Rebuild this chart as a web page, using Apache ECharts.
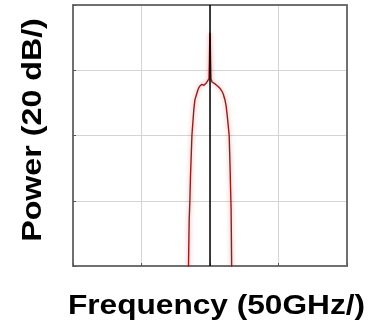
<!DOCTYPE html>
<html>
<head>
<meta charset="utf-8">
<script src="https://cdn.jsdelivr.net/npm/echarts@6/dist/echarts.min.js"></script>
<style>
html,body{margin:0;padding:0;background:#fff;}
#chart{width:386px;height:329px;}
</style>
</head>
<body>
<div id="chart"></div>
<script>
// Frequency offset (GHz) and relative power (dB) of the measured spectrum
var freqGHz = [-17.0, -15.7, -15.2, -14.7, -14.2, -13.2, -12.5, -11.8, -11.0, -9.9, -8.8, -7.7, -6.6, -5.9, -5.1, -4.4, -3.7, -2.9, -2.2, -1.5, -0.7, -0.4, -0.2, 0.0, 0.2, 0.4, 0.7, 1.5, 2.2, 2.9, 3.7, 4.4, 5.1, 5.9, 6.6, 7.4, 8.5, 9.6, 10.3, 11.0, 11.8, 12.5, 13.2, 14.0, 14.7, 15.0, 15.4, 15.8, 16.5];
var powerDB = [-86, -80, -66, -60, -52, -40, -36, -32, -29, -27.5, -26, -25, -24.6, -24.3, -24.2, -24.6, -24.7, -24.0, -23.9, -23.4, -22.6, -17.0, -11.0, -8.5, -11.0, -17.0, -22.6, -23.6, -23.9, -24.1, -24.2, -24.4, -24.8, -25.0, -25.2, -25.6, -26.3, -27.2, -28.2, -29.2, -31.0, -33.6, -36.5, -40.0, -50.4, -56, -62.6, -80, -86];

// Axis spans: 50 GHz per division, 20 dB per division
var xRange = [-100, 100];
var yRange = [-80, 0];
var centerFreq = 0;

// Axis titles
var xTitle = 'Frequency (50GHz/)';
var yTitle = 'Power (20 dB/)';

var line = freqGHz.map(function (f, i) { return [f, powerDB[i]]; });

var frame = { show: true, onZero: false, lineStyle: { color: '#707070', width: 2 } };
var titleFont = 'bold 28px "Liberation Sans", Arial, sans-serif';

var chart = echarts.init(document.getElementById('chart'));
chart.setOption({
  animation: false,
  backgroundColor: '#fff',
  grid: { left: 73, top: 5, width: 274, height: 261, outerBoundsMode: 'none', containLabel: false },
  xAxis: [{
    type: 'value', min: xRange[0], max: xRange[1], interval: 50, position: 'bottom',
    axisLine: frame,
    axisTick: { show: true, inside: true, length: 3, lineStyle: { color: '#555' } },
    axisLabel: { show: false },
    splitLine: { show: true, lineStyle: { color: '#d4d4d4', width: 1 } }
  }, {
    type: 'value', min: xRange[0], max: xRange[1], interval: 50, position: 'top',
    axisLine: frame, axisTick: { show: false }, axisLabel: { show: false }, splitLine: { show: false }
  }],
  yAxis: [{
    type: 'value', min: yRange[0], max: yRange[1], interval: 20, position: 'left',
    axisLine: frame,
    axisTick: { show: true, inside: true, length: 3, lineStyle: { color: '#555' } },
    axisLabel: { show: false },
    splitLine: { show: true, lineStyle: { color: '#d4d4d4', width: 1 } }
  }, {
    type: 'value', min: yRange[0], max: yRange[1], interval: 20, position: 'right',
    axisLine: frame, axisTick: { show: false }, axisLabel: { show: false }, splitLine: { show: false }
  }],
  graphic: [{
    type: 'text', x: 216.5, y: 306, scaleX: 1.13,
    style: { text: xTitle, font: titleFont, fill: '#000', align: 'center', verticalAlign: 'middle' }
  }, {
    type: 'text', x: 33, y: 130, rotation: Math.PI / 2, scaleX: 1.15,
    style: { text: yTitle, font: titleFont, fill: '#000', align: 'center', verticalAlign: 'middle' }
  }],
  series: [{
    type: 'line',
    data: line,
    showSymbol: false,
    smooth: false,
    clip: true,
    lineStyle: { color: '#8a2222', width: 1.4, shadowColor: 'rgba(230,60,60,0.6)', shadowBlur: 4 },
    markLine: {
      silent: true, symbol: 'none', label: { show: false },
      lineStyle: { color: '#000', width: 1.5, type: 'solid' },
      data: [{ xAxis: centerFreq }]
    },
    z: 3
  }]
});
</script>
</body>
</html>
